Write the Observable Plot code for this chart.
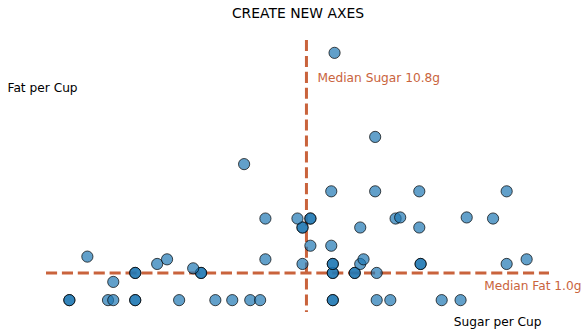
<!DOCTYPE html>
<html>
<head>
<meta charset="utf-8">
<script src="https://cdn.jsdelivr.net/npm/d3@7"></script>
<script src="https://cdn.jsdelivr.net/npm/@observablehq/plot@0.6"></script>
<style>
  html, body { margin: 0; padding: 0; background: #fff; }
  svg { display: block; }
</style>
</head>
<body>
<div id="chart"></div>
<script>
const title = "CREATE NEW AXES";
const xLabel = "Sugar per Cup";
const yLabel = "Fat per Cup";
const medianSugar = 10.8;
const medianFat = 1.0;

const sugarPerCup = [
  0, 0, 1.76, 2.0, 3, 3, 5, 6.65, 7.42, 8.24, 8.69, 12, 12, 14, 14.62, 16.96, 17.82,
  2,
  3, 3, 6, 6, 12, 12, 13, 13, 14,
  0.82,
  4, 10.62, 12, 12, 13.25, 16, 16, 19.92,
  4.45, 8.93, 13.4, 20.83,
  5.64,
  10.98, 11.93,
  10.62, 10.62, 13.25, 15.94,
  8.93, 10.39, 10.98, 10.98, 14.86, 19.3,
  15.07, 18.1,
  11.93, 13.93, 15.94, 19.92,
  7.96,
  13.93,
  12.08
];
const fatPerCup = [
  0, 0, 0, 0, 0, 0, 0, 0, 0, 0, 0, 0, 0, 0, 0, 0, 0,
  0.67,
  1, 1, 1, 1, 1, 1, 1, 1, 1,
  1.6,
  1.33, 1.33, 1.33, 1.33, 1.33, 1.33, 1.33, 1.33,
  1.5, 1.5, 1.5, 1.5,
  1.17,
  2, 2,
  2.67, 2.67, 2.67, 2.67,
  3, 3, 3, 3, 3, 3,
  3.04, 3.04,
  4, 4, 4, 4,
  5,
  6,
  9.09
];

const data = sugarPerCup.map((s, i) => ({sugar: s, fat: fatPerCup[i]}));

function padded(values) {
  const [lo, hi] = d3.extent(values);
  const m = (hi - lo) * 0.05;
  return [lo - m, hi + m];
}

const accent = "#c9633c";
const font = "DejaVu Sans, sans-serif";

const chart = Plot.plot({
  width: 588,
  height: 336,
  marginLeft: 46,
  marginRight: 39,
  marginTop: 40,
  marginBottom: 24,
  style: {fontFamily: font, background: "#fff", overflow: "visible"},
  x: {domain: padded(sugarPerCup), axis: null},
  y: {domain: padded(fatPerCup), axis: null},
  marks: [
    Plot.ruleX([medianSugar], {stroke: accent, strokeWidth: 3, strokeDasharray: "11.1,4.8"}),
    Plot.ruleY([medianFat], {stroke: accent, strokeWidth: 3, strokeDasharray: "11.1,4.8"}),
    Plot.dot(data, {
      x: "sugar", y: "fat", r: 5.6,
      fill: "#1f77b4", fillOpacity: 0.7,
      stroke: "#000", strokeOpacity: 0.7, strokeWidth: 1
    }),
    Plot.text([`Median Sugar ${medianSugar.toFixed(1)}g`], {
      x: [medianSugar], frameAnchor: "top", dx: 11, dy: 38,
      text: d => d, textAnchor: "start", lineAnchor: "middle",
      fill: accent, fontSize: 12.2
    }),
    Plot.text([`Median Fat ${medianFat.toFixed(1)}g`], {
      y: [medianFat], frameAnchor: "right", dx: 32, dy: 13,
      text: d => d, textAnchor: "end", lineAnchor: "middle",
      fill: accent, fontSize: 12.2
    }),
    Plot.text([title], {
      frameAnchor: "top", dy: -27, text: d => d,
      lineAnchor: "middle", fill: "#000", fontSize: 13.9
    }),
    Plot.text([yLabel], {
      frameAnchor: "top-left", dx: -39, dy: 48, text: d => d,
      textAnchor: "start", lineAnchor: "middle", fill: "#000", fontSize: 12.2
    }),
    Plot.text([xLabel], {
      frameAnchor: "bottom-right", dx: -8, dy: 10, text: d => d,
      textAnchor: "end", lineAnchor: "middle", fill: "#000", fontSize: 12.2
    })
  ]
});

document.getElementById("chart").appendChild(chart);
</script>
</body>
</html>
